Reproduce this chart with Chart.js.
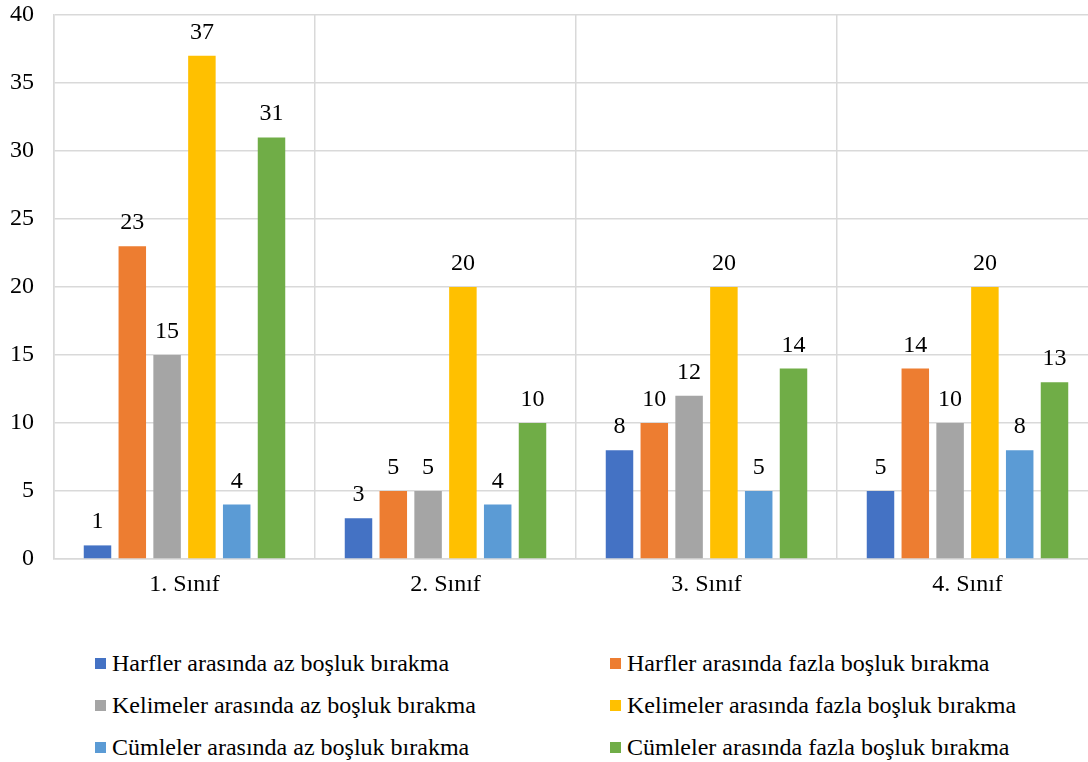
<!DOCTYPE html>
<html lang="tr">
<head>
    <meta charset="UTF-8">
    <title>Boşluk hataları</title>
    <script src="https://cdn.jsdelivr.net/npm/chart.js"></script>
    <style>
        body {
            margin: 0;
            overflow: hidden;
            background: #fff;
            font-family: "Liberation Serif", "Times New Roman", serif;
        }
        #wrap {
            position: relative;
            width: 1100px;
            height: 762px;
        }
        #legend {
            position: absolute;
            left: 95px;
            top: 642px;
            display: grid;
            grid-template-columns: 515px 480px;
            grid-auto-rows: 42px;
            font-size: 24px;
            color: #000;
        }
        .item {
            display: flex;
            align-items: center;
            white-space: nowrap;
        }
        .box {
            width: 11px;
            height: 11px;
            margin-right: 6px;
            flex: none;
        }
    </style>
</head>
<body>
<div id="wrap">
    <canvas id="myChart" width="1100" height="600"></canvas>
    <div id="legend"></div>
</div>
<script>
const categories = ['1. Sınıf', '2. Sınıf', '3. Sınıf', '4. Sınıf'];
const seriesNames = [
    'Harfler arasında az boşluk bırakma',
    'Harfler arasında fazla boşluk bırakma',
    'Kelimeler arasında az boşluk bırakma',
    'Kelimeler arasında fazla boşluk bırakma',
    'Cümleler arasında az boşluk bırakma',
    'Cümleler arasında fazla boşluk bırakma'
];
const harflerAz = [1, 3, 8, 5];
const harflerFazla = [23, 5, 10, 14];
const kelimelerAz = [15, 5, 12, 10];
const kelimelerFazla = [37, 20, 20, 20];
const cumlelerAz = [4, 4, 5, 8];
const cumlelerFazla = [31, 10, 14, 13];
const yTicks = [0, 5, 10, 15, 20, 25, 30, 35, 40];

const colors = ['#4472C4', '#ED7D31', '#A5A5A5', '#FFC000', '#5B9BD5', '#70AD47'];
const allSeries = [harflerAz, harflerFazla, kelimelerAz, kelimelerFazla, cumlelerAz, cumlelerFazla];

const FONT = '"Liberation Serif", "Times New Roman", serif';

// labels above each bar
const valueLabels = {
    id: 'valueLabels',
    afterDatasetsDraw(chart) {
        const ctx = chart.ctx;
        ctx.save();
        ctx.font = '24px ' + FONT;
        ctx.fillStyle = '#000';
        ctx.textAlign = 'center';
        ctx.textBaseline = 'alphabetic';
        chart.data.datasets.forEach((ds, i) => {
            chart.getDatasetMeta(i).data.forEach((bar, j) => {
                ctx.fillText(ds.data[j], bar.x, bar.y - 17);
            });
        });
        ctx.restore();
    }
};

const myChart = new Chart(document.getElementById('myChart'), {
    type: 'bar',
    data: {
        labels: categories,
        datasets: allSeries.map((data, i) => ({
            label: seriesNames[i],
            data: data,
            backgroundColor: colors[i],
            borderWidth: 0,
            categoryPercentage: 0.8,
            barPercentage: 0.79
        }))
    },
    options: {
        responsive: false,
        animation: false,
        layout: { padding: { top: 15, right: 2, left: 0, bottom: 0 } },
        plugins: {
            legend: { display: false },
            tooltip: { enabled: false }
        },
        scales: {
            x: {
                grid: { color: '#d9d9d9', lineWidth: 1.5, drawTicks: false },
                border: { color: '#d9d9d9', width: 1.5 },
                ticks: { color: '#000', font: { family: FONT, size: 24 }, padding: 11 },
                afterFit(scale) { scale.height = 41; }
            },
            y: {
                min: 0,
                max: 40,
                afterBuildTicks(scale) { scale.ticks = yTicks.map(v => ({ value: v })); },
                grid: { color: '#d9d9d9', lineWidth: 1.5, drawTicks: false },
                border: { color: '#d9d9d9', width: 1.5 },
                ticks: { color: '#000', font: { family: FONT, size: 24 }, padding: 20 },
                afterFit(scale) {
                    scale.width = 54;
                    // let layout.padding alone decide the top of the plot
                    scale.paddingTop = 0;
                    scale.paddingBottom = 0;
                }
            }
        }
    },
    plugins: [valueLabels]
});

// two-column legend, same order as the datasets
const legend = document.getElementById('legend');
seriesNames.forEach((name, i) => {
    const item = document.createElement('div');
    item.className = 'item';
    const box = document.createElement('span');
    box.className = 'box';
    box.style.background = colors[i];
    item.appendChild(box);
    item.appendChild(document.createTextNode(name));
    legend.appendChild(item);
});
</script>
</body>
</html>
